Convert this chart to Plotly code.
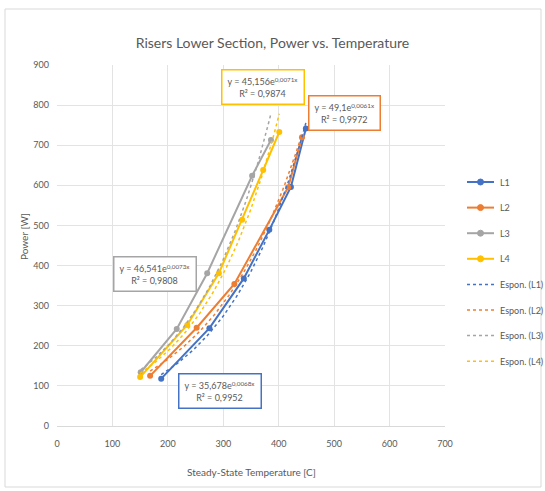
import numpy as np
import plotly.graph_objects as go

# Measured steady-state temperature [C] and heater power [W] per riser
l1_temp = [188, 275, 337, 383, 422, 449]
l1_power = [118, 244, 368, 489, 596, 742]
l2_temp = [168, 252, 320, 417, 442]
l2_power = [125, 245, 354, 595, 720]
l3_temp = [151, 216, 271, 352, 386]
l3_power = [134, 242, 381, 624, 713]
l4_temp = [150, 235, 292, 334, 372, 401]
l4_power = [122, 252, 381, 514, 638, 733]

series_names = ["L1", "L2", "L3", "L4"]
series_colors = ["#4472C4", "#ED7D31", "#A5A5A5", "#FFC000"]

# Exponential trendline coefficients y = a * exp(b * x) and R^2
fit_a = [35.678, 49.1, 46.541, 45.156]
fit_b = [0.0068, 0.0061, 0.0073, 0.0071]
fit_r2 = [0.9952, 0.9972, 0.9808, 0.9874]
fit_label_names = ["Espon. (L1)", "Espon. (L2)", "Espon. (L3)", "Espon. (L4)"]

# Label box centres (data coordinates) for each trendline equation
label_x = [294, 518, 177, 372]
label_y = [87, 780, 379, 845]

temps = [l1_temp, l2_temp, l3_temp, l4_temp]
powers = [l1_power, l2_power, l3_power, l4_power]

# Plot-area geometry in pixels, used to place items outside the axes
PL, PR, PT, PB = 57, 445, 65, 426
W, H = 545, 491


def px_to_paper(px, py):
    return (px - PL) / (PR - PL), (PB - py) / (PB - PT)


fig = go.Figure()

for i, name in enumerate(series_names):
    fig.add_trace(go.Scatter(
        x=temps[i], y=powers[i], name=name, mode="lines+markers",
        line=dict(color=series_colors[i], width=2),
        marker=dict(color=series_colors[i], size=6, symbol="circle"),
        showlegend=False,
    ))

for i, name in enumerate(fit_label_names):
    xs = np.linspace(min(temps[i]), max(temps[i]), 80)
    ys = fit_a[i] * np.exp(fit_b[i] * xs)
    fig.add_trace(go.Scatter(
        x=xs, y=ys, name=name, mode="lines",
        line=dict(color=series_colors[i], width=1.5, dash="dot"),
        showlegend=False,
    ))


def fmt(v):
    return f"{v}".replace(".", ",")


for i in range(4):
    fig.add_annotation(
        x=label_x[i], y=label_y[i], xref="x", yref="y",
        text=f"y = {fmt(fit_a[i])}e<sup>{fmt(fit_b[i])}x</sup><br>R² = {fmt(fit_r2[i])}",
        showarrow=False, align="center",
        font=dict(family="Lato, sans-serif", size=9, color="#595959"),
        bgcolor="white", bordercolor=series_colors[i], borderwidth=1.5, borderpad=5,
    )

# Legend drawn beside the plot area
legend_names = series_names + fit_label_names
legend_colors = series_colors + series_colors
for k, name in enumerate(legend_names):
    py = 182 + 25.6 * k
    x0, y0 = px_to_paper(467, py)
    x1, _ = px_to_paper(494, py)
    xm, _ = px_to_paper(480.5, py)
    xt, _ = px_to_paper(498, py)
    is_fit = k >= 4
    fig.add_shape(
        type="line", xref="paper", yref="paper", x0=x0, x1=x1, y0=y0, y1=y0,
        line=dict(color=legend_colors[k], width=1.5 if is_fit else 2,
                  dash="dot" if is_fit else "solid"),
    )
    if not is_fit:
        fig.add_shape(
            type="circle", xref="paper", yref="paper",
            xsizemode="pixel", ysizemode="pixel", xanchor=xm, yanchor=y0,
            x0=-3, x1=3, y0=-3, y1=3,
            fillcolor=legend_colors[k], line=dict(color=legend_colors[k], width=1),
        )
    fig.add_annotation(
        x=xt, y=y0, xref="paper", yref="paper", xanchor="left", yanchor="middle",
        text=name, showarrow=False,
        font=dict(family="Lato, sans-serif", size=9, color="#595959"),
    )

# Axis titles
tx, ty = px_to_paper(251, 472)
fig.add_annotation(
    x=tx, y=ty, xref="paper", yref="paper", yanchor="middle",
    text="Steady-State Temperature [C]", showarrow=False,
    font=dict(family="Lato, sans-serif", size=10, color="#595959"),
)
ax, ay = px_to_paper(24, 237)
fig.add_annotation(
    x=ax, y=ay, xref="paper", yref="paper", textangle=-90,
    xanchor="center", yanchor="middle",
    text="Power [W]", showarrow=False,
    font=dict(family="Lato, sans-serif", size=10, color="#595959"),
)

# Chart frame
fx0, fy1 = px_to_paper(5, 9)
fx1, fy0 = px_to_paper(541, 487)
fig.add_shape(
    type="rect", xref="paper", yref="paper",
    x0=fx0, x1=fx1, y0=fy0, y1=fy1,
    line=dict(color="#D9D9D9", width=1), layer="below",
)

fig.update_layout(
    width=W, height=H,
    margin=dict(l=PL, r=W - PR, t=PT, b=H - PB, autoexpand=False),
    paper_bgcolor="white", plot_bgcolor="white",
    title=dict(
        text="Risers Lower Section, Power vs. Temperature",
        x=0.5, xanchor="center", y=1 - 43 / H, yanchor="middle",
        font=dict(family="Lato, sans-serif", size=14, color="#595959"),
    ),
    font=dict(family="Lato, sans-serif", size=9, color="#595959"),
    showlegend=False,
    xaxis=dict(
        range=[0, 700], dtick=100, showgrid=True, gridcolor="#E3E3E3",
        zeroline=False, showline=True, linecolor="#D9D9D9",
        ticks="", ticklabelstandoff=9, tickfont=dict(size=9, color="#595959"),
    ),
    yaxis=dict(
        range=[0, 900], dtick=100, showgrid=True, gridcolor="#E3E3E3",
        zeroline=False, showline=False,
        ticks="", ticklabelstandoff=7, tickfont=dict(size=9, color="#595959"),
    ),
)

fig.write_html("out.html")
